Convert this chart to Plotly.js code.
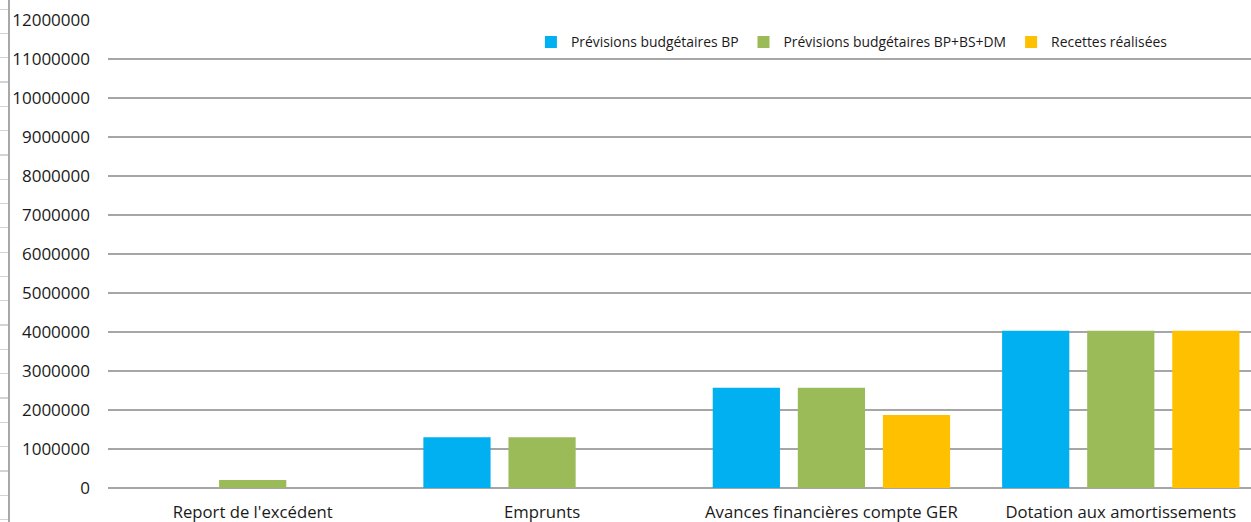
<!DOCTYPE html>
<html>
<head>
<meta charset="utf-8">
<script src="https://cdn.plot.ly/plotly-3.0.1.min.js"></script>
<style>
  html, body { margin: 0; padding: 0; background: #fff; overflow: hidden; }
  #wrap { position: relative; width: 1251px; height: 522px; }
  #chart { position: absolute; left: 0; top: 0; width: 1251px; height: 522px; }
  #rows { position: absolute; left: 0; top: 0; width: 8px; height: 522px;
          background: repeating-linear-gradient(to bottom, transparent 0px, transparent 8.6px, #d4d4d4 8.6px, #d4d4d4 9.8px, transparent 9.8px, transparent 24.3px); }
  #vline { position: absolute; left: 8px; top: 0; width: 1.5px; height: 522px; background: #a8a8a8; }
</style>
</head>
<body>
<div id="wrap">
  <div id="chart"></div>
  <div id="rows"></div>
  <div id="vline"></div>
</div>
<script>
const categories = ["Report de l'excédent", "Emprunts", "Avances financières compte GER", "Dotation aux amortissements"];
const seriesNames = ["Prévisions budgétaires BP", "Prévisions budgétaires BP+BS+DM", "Recettes réalisées"];
const previsionsBP = [0, 1300000, 2570000, 4030000];
const previsionsBPBSDM = [205000, 1300000, 2570000, 4030000];
const recettesRealisees = [0, 0, 1870000, 4030000];
const seriesColors = ["#00B0F0", "#9BBB59", "#FFC000"];
const yTickVals = [0, 1000000, 2000000, 3000000, 4000000, 5000000, 6000000, 7000000, 8000000, 9000000, 10000000, 11000000, 12000000];

const allValues = [previsionsBP, previsionsBPBSDM, recettesRealisees];
const traces = allValues.map((vals, i) => ({
  type: 'bar',
  name: seriesNames[i],
  x: categories,
  y: vals,
  marker: { color: seriesColors[i], line: { width: 0 } },
  hoverinfo: 'skip'
}));

const font = "'Open Sans', 'Liberation Sans', sans-serif";

const layout = {
  width: 1251,
  height: 522,
  margin: { l: 108, r: 0, t: 20, b: 34 },
  paper_bgcolor: '#ffffff',
  plot_bgcolor: '#ffffff',
  barmode: 'group',
  bargap: 0.118,
  bargroupgap: 0.21,
  showlegend: true,
  legend: {
    orientation: 'h',
    x: 0.37,
    xanchor: 'left',
    y: 0.952,
    yanchor: 'middle',
    bgcolor: 'rgba(0,0,0,0)',
    font: { family: font, size: 13.9, color: '#1a1a1a' },
    itemwidth: 30,
    traceorder: 'normal'
  },
  xaxis: {
    type: 'category',
    range: [-0.5, 3.45],
    showgrid: false,
    showline: false,
    zeroline: false,
    ticks: '',
    ticklabelstandoff: 12,
    tickfont: { family: font, size: 16.7, color: '#1a1a1a' },
    fixedrange: true
  },
  yaxis: {
    range: [0, 12000000],
    tickvals: yTickVals,
    tickformat: 'd',
    showgrid: true,
    gridcolor: '#a6a6a6',
    gridwidth: 1.5,
    zeroline: true,
    zerolinecolor: '#a6a6a6',
    zerolinewidth: 1.5,
    showline: false,
    ticks: '',
    ticklabelstandoff: 17,
    tickfont: { family: font, size: 17, color: '#1a1a1a' },
    fixedrange: true
  }
};

Plotly.newPlot('chart', traces, layout, { staticPlot: true, displayModeBar: false });
</script>
</body>
</html>
